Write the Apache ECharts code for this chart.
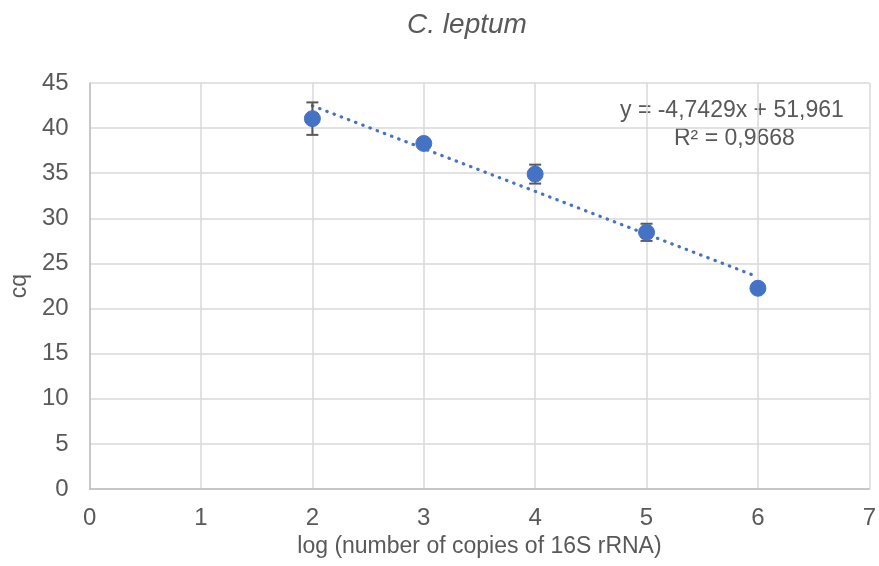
<!DOCTYPE html>
<html><head><meta charset="utf-8">
<script src="https://cdn.jsdelivr.net/npm/echarts@6/dist/echarts.min.js"></script>
<style>html,body{margin:0;padding:0;background:#fff}#c{width:879px;height:566px}</style>
</head><body><div id="c"></div>
<script>
var xValues = [2, 3, 4, 5, 6];
var cqValues = [41.05, 38.3, 34.9, 28.45, 22.25];
var cqErrors = [1.8, 0.3, 1.05, 0.95, 0.3];
var trendSlope = -4.7429;
var trendIntercept = 51.961;
var trendRange = [2, 6];
var xTicks = [0, 1, 2, 3, 4, 5, 6, 7];
var yTicks = [0, 5, 10, 15, 20, 25, 30, 35, 40, 45];

var points = xValues.map(function (x, i) { return [x, cqValues[i]]; });
var errData = xValues.map(function (x, i) { return [x, cqValues[i] - cqErrors[i], cqValues[i] + cqErrors[i]]; });
var trend = trendRange.map(function (x) { return [x, trendSlope * x + trendIntercept]; });

var chart = echarts.init(document.getElementById('c'));
var txt = '#595959';
var ff = '"Liberation Sans", Arial, sans-serif';
chart.setOption({
  animation: false,
  title: {
    text: 'C. leptum', left: 462, top: 6, textAlign: 'center',
    textStyle: { fontFamily: ff, fontStyle: 'italic', fontWeight: 'normal', fontSize: 28, color: txt }
  },
  grid: { left: 86, right: 8, top: 83, bottom: 77 },
  xAxis: {
    type: 'value', min: xTicks[0], max: xTicks[xTicks.length - 1], interval: 1,
    name: 'log (number of copies of 16S rRNA)', nameLocation: 'middle', nameGap: 46,
    nameTextStyle: { fontFamily: ff, fontSize: 23, color: txt },
    axisLine: { show: true, lineStyle: { color: '#BFBFBF', width: 1.5 } },
    axisTick: { show: false },
    axisLabel: { fontFamily: ff, fontSize: 24, color: txt, margin: 17 },
    splitLine: { show: true, lineStyle: { color: '#D9D9D9', width: 1.5 } }
  },
  yAxis: {
    type: 'value', min: yTicks[0], max: yTicks[yTicks.length - 1], interval: 5,
    name: 'cq', nameLocation: 'middle', nameGap: 57,
    nameTextStyle: { fontFamily: ff, fontSize: 23, color: txt },
    axisLine: { show: true, lineStyle: { color: '#BFBFBF', width: 1.5 } },
    axisTick: { show: false },
    axisLabel: { fontFamily: ff, fontSize: 24, color: txt, margin: 21 },
    splitLine: { show: true, lineStyle: { color: '#D9D9D9', width: 1.5 } }
  },
  series: [
    {
      type: 'line', data: trend, symbol: 'none', z: 2,
      lineStyle: { color: '#4472C4', width: 3.2, type: [0.5, 7.2], cap: 'round' }
    },
    {
      type: 'custom', z: 3,
      renderItem: function (params, api) {
        var x = api.value(0);
        var lo = api.coord([x, api.value(1)]);
        var hi = api.coord([x, api.value(2)]);
        var hw = 6;
        var st = { stroke: '#595959', lineWidth: 2 };
        return {
          type: 'group', children: [
            { type: 'line', shape: { x1: lo[0], y1: lo[1], x2: hi[0], y2: hi[1] }, style: st },
            { type: 'line', shape: { x1: lo[0] - hw, y1: lo[1], x2: lo[0] + hw, y2: lo[1] }, style: st },
            { type: 'line', shape: { x1: hi[0] - hw, y1: hi[1], x2: hi[0] + hw, y2: hi[1] }, style: st }
          ]
        };
      },
      encode: { x: 0, y: [1, 2] },
      data: errData
    },
    {
      type: 'scatter', data: points, symbol: 'circle', symbolSize: 16, z: 4,
      itemStyle: { color: '#4472C4', borderColor: '#4472C4', borderWidth: 1, opacity: 1 }
    }
  ],
  graphic: [
    { type: 'text', left: 620, top: 99, style: { text: 'y = -4,7429x + 51,961', font: '23px "Liberation Sans", Arial', fill: txt } },
    { type: 'text', left: 674, top: 127, style: { text: 'R² = 0,9668', font: '23px "Liberation Sans", Arial', fill: txt } }
  ]
});
</script>
</body></html>
